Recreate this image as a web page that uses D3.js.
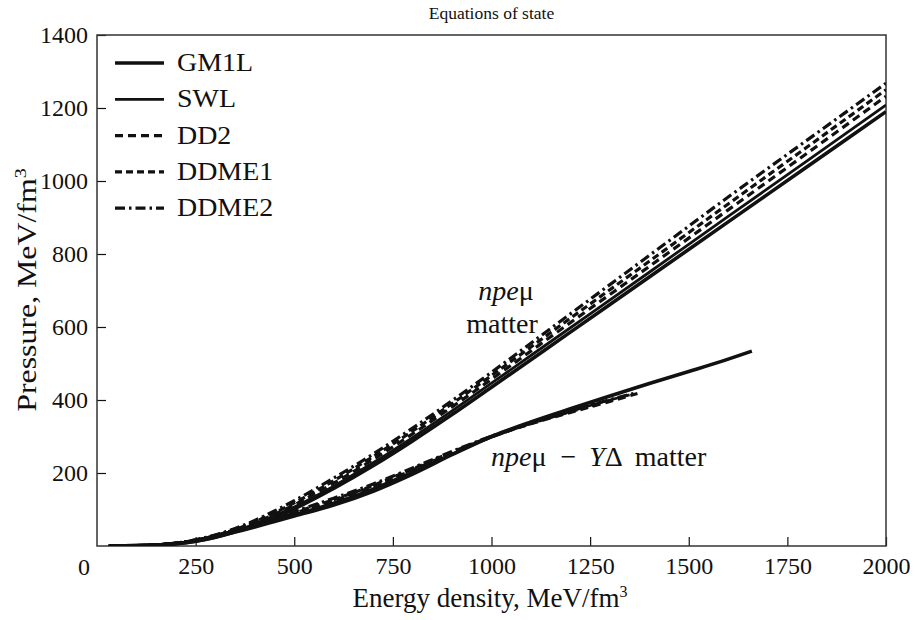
<!DOCTYPE html>
<html><head><meta charset="utf-8">
<script src="https://cdn.jsdelivr.net/npm/d3@7/dist/d3.min.js"></script>
<style>body{margin:0;background:#fff}</style>
</head><body><svg id="c" width="915" height="620"></svg>
<script>
// ---- data ----
const seriesNames = ["GM1L","SWL","DD2","DDME1","DDME2"];
const xTicks = [250,500,750,1000,1250,1500,1750,2000];
const yTicks = [200,400,600,800,1000,1200,1400];

// npeμ matter: energy density (MeV/fm^3) and pressure (MeV/fm^3)
const eNpe = [30,100,150,200,250,300,350,400,450,500,600,700,800,900,1000,1200,1400,1600,1800,2000];
const pNpeGM1L  = [0,1,3,6,13,24,39,57,79,102,158,220,288,360,435,586,737,888,1039,1190];
const pNpeSWL   = [0,1,3,7,14,25,41,60,83,107,164,228,297,370,446,598,750,903,1055,1208];
const pNpeDD2   = [0,1,3,7,15,27,43,63,87,113,172,237,307,381,457,612,766,921,1076,1232];
const pNpeDDME1 = [0,1,3,8,16,28,45,66,91,118,179,245,315,390,467,624,780,937,1093,1250];
const pNpeDDME2 = [0,1,3,8,17,30,48,70,96,124,186,252,323,398,476,636,796,956,1112,1268];

// npeμ–YΔ matter
const eYGM1L  = [30,100,150,200,250,300,350,400,450,500,600,700,800,900,1000,1100,1200,1300,1400,1500,1600,1660];
const pYGM1L  = [0,1,3,6,13,24,38,52,67,82,112,150,197,250,300,340,376,411,445,478,512,534];
const eYSWL   = [30,100,150,200,250,300,350,400,450,500,600,700,800,900,1000,1100,1200,1300,1350];
const pYSWL   = [0,1,3,7,14,25,40,55,70,86,118,157,203,252,298,336,369,400,414];
const eYDD2   = [30,100,150,200,250,300,350,400,450,500,600,700,800,900,1000,1100,1200,1300,1370];
const pYDD2   = [0,1,3,7,15,27,42,58,74,90,124,163,208,255,299,335,366,396,418];
const eYDDME1 = [30,100,150,200,250,300,350,400,450,500,600,700,800,900,1000,1100,1200,1280];
const pYDDME1 = [0,1,3,8,16,28,44,60,76,92,127,166,211,257,300,336,368,392];
const eYDDME2 = [30,100,150,200,250,300,350,400,450,500,600,700,800,900,1000,1100,1200,1300,1360];
const pYDDME2 = [0,1,3,8,17,30,46,63,79,95,131,170,214,259,301,337,370,401,418];

// ---- styles ----
const FONT = "Liberation Serif, DejaVu Serif, serif";
const styles = {
  GM1L:  {w:3.6, dash:null},
  SWL:   {w:2.8, dash:null},
  DD2:   {w:3.2, dash:"8,5"},
  DDME1: {w:3.2, dash:"7,4"},
  DDME2: {w:3.2, dash:"10,4,2.5,4"}
};

const curves = [
  {name:"GM1L", e:eNpe, p:pNpeGM1L}, {name:"SWL", e:eNpe, p:pNpeSWL},
  {name:"DD2", e:eNpe, p:pNpeDD2}, {name:"DDME1", e:eNpe, p:pNpeDDME1},
  {name:"DDME2", e:eNpe, p:pNpeDDME2},
  {name:"SWL", e:eYSWL, p:pYSWL}, {name:"DD2", e:eYDD2, p:pYDD2},
  {name:"DDME1", e:eYDDME1, p:pYDDME1}, {name:"DDME2", e:eYDDME2, p:pYDDME2},
  {name:"GM1L", e:eYGM1L, p:pYGM1L}
];

const svg = d3.select("#c").style("font-family",FONT);
const L=97, R=886, T=35, B=546;
const x = d3.scaleLinear().domain([0,2000]).range([L,R]);
const y = d3.scaleLinear().domain([0,1400]).range([B,T]);
const ink = "#111";
const txt = (sel)=>sel.append("text").style("font-family",FONT).attr("fill",ink);

// title
txt(svg).attr("x",(L+R)/2).attr("y",19).attr("text-anchor","middle")
  .attr("font-size",17.5).text("Equations of state");

// axes
const xa = svg.append("g").attr("transform",`translate(0,${B})`)
  .call(d3.axisBottom(x).tickValues(xTicks).tickSize(-9).tickPadding(11).tickFormat(d3.format("d")));
const ya = svg.append("g").attr("transform",`translate(${L},0)`)
  .call(d3.axisLeft(y).tickValues(yTicks).tickSize(-9).tickPadding(9).tickFormat(d3.format("d")));
[xa,ya].forEach(g=>{
  g.attr("font-family",null);
  g.select(".domain").remove();
  g.selectAll("line").attr("stroke",ink).attr("stroke-width",1.2);
  g.selectAll("text").attr("font-size",24).attr("fill",ink).style("font-family",FONT);
});
txt(svg).attr("x",84).attr("y",575).attr("text-anchor","middle")
  .attr("font-size",24).text("0");

// frame
svg.append("rect").attr("x",L).attr("y",T).attr("width",R-L).attr("height",B-T)
  .attr("fill","none").attr("stroke","#333").attr("stroke-width",1.5);

// curves
svg.append("clipPath").attr("id","pc").append("rect")
  .attr("x",L).attr("y",T).attr("width",R-L).attr("height",B-T);
const line = d3.line().x(d=>x(d[0])).y(d=>y(d[1])).curve(d3.curveMonotoneX);
const cg = svg.append("g").attr("clip-path","url(#pc)");
curves.forEach(c=>{
  const st = styles[c.name];
  cg.append("path").datum(c.e.map((v,i)=>[v,c.p[i]]))
    .attr("d",line).attr("fill","none").attr("stroke",ink)
    .attr("stroke-width",st.w).attr("stroke-dasharray",st.dash);
});

// legend
const lg = svg.append("g");
seriesNames.forEach((n,i)=>{
  const yy = 63 + i*36.3;
  const st = styles[n];
  lg.append("line").attr("x1",115).attr("x2",164).attr("y1",yy).attr("y2",yy)
    .attr("stroke",ink).attr("stroke-width",st.w).attr("stroke-dasharray",st.dash);
  txt(lg).attr("transform",`translate(177,${yy+8}) scale(1.14,1)`).attr("font-size",24.5).text(n);
});

// annotations
const a1 = txt(svg).attr("x",506).attr("y",300).attr("text-anchor","middle").attr("font-size",28);
a1.append("tspan").attr("font-style","italic").text("npe");
a1.append("tspan").text("μ");
txt(svg).attr("x",502).attr("y",333).attr("text-anchor","middle").attr("font-size",28).text("matter");
const a2 = txt(svg).attr("x",491).attr("y",466).attr("font-size",28);
a2.append("tspan").attr("font-style","italic").text("npe");
a2.append("tspan").text("μ");
a2.append("tspan").attr("dx",14).text("−");
a2.append("tspan").attr("dx",13).attr("font-style","italic").text("Y");
a2.append("tspan").text("Δ");
a2.append("tspan").attr("dx",12).text("matter");

// axis labels
const xl = txt(svg).attr("x",490).attr("y",607).attr("text-anchor","middle").attr("font-size",27);
xl.append("tspan").text("Energy density, MeV/fm");
xl.append("tspan").attr("dy",-10).attr("font-size",16).text("3");
const yl = txt(svg).attr("transform","translate(36,290) rotate(-90) scale(1.18,1)").attr("text-anchor","middle").attr("font-size",27);
yl.append("tspan").text("Pressure, MeV/fm");
yl.append("tspan").attr("dy",-10).attr("font-size",17).text("3");
</script></body></html>
